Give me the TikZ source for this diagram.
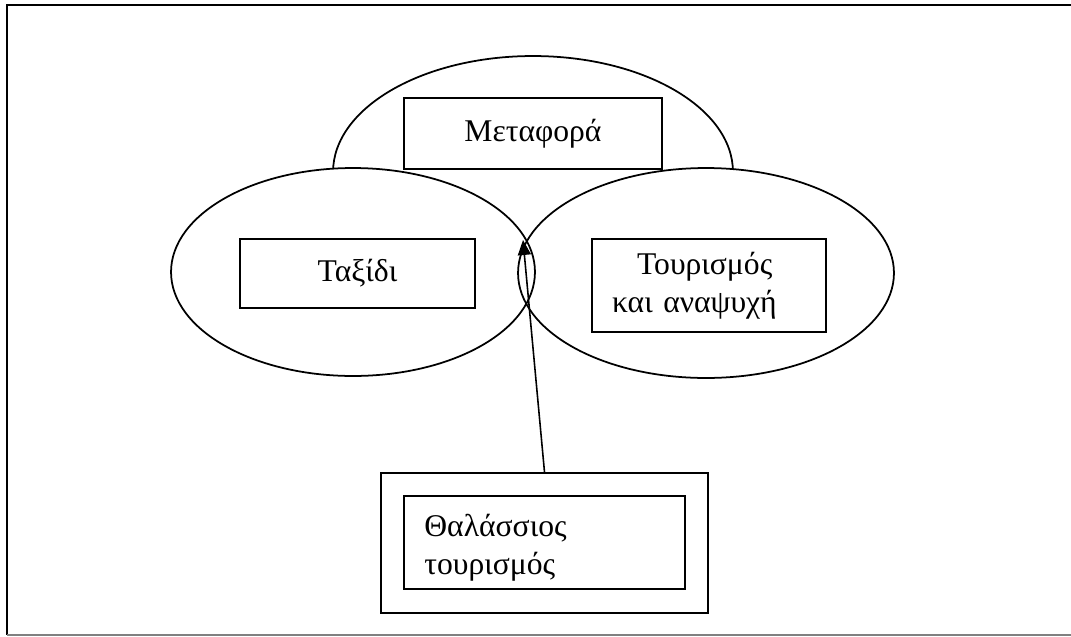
\documentclass[tikz,border=0pt]{standalone}
\usepackage{fontspec}
\setmainfont{Liberation Serif}
\usetikzlibrary{shapes,shapes.geometric,arrows.meta,positioning}

\tikzset{
	oval/.style={ellipse, line width=1pt, inner sep=0pt},
	label box/.style={draw, line width=1pt, fill=white, font=\fontsize{18}{21.5}\selectfont, align=center}
}

\begin{document}
\begin{tikzpicture}[x=0.02cm, y=-0.02cm]
	\useasboundingbox (0,0) rectangle (1071,636);
	\draw[line width=1pt] (1071,5) -- (7,5) -- (7,635);
	\draw[gray, line width=0.8pt] (7,635) -- (1071,635);

	\node[oval, draw, minimum width=8cm, minimum height=4.64cm] (metaforaoval) at (533,172) {};
	\node[oval, fill=white, minimum width=7.28cm, minimum height=4.16cm] (taxidioval) at (353,272) {};
	\node[oval, fill=white, minimum width=7.52cm, minimum height=4.2cm] (tourismoval) at (706,273) {};
	\node[oval, draw, minimum width=7.28cm, minimum height=4.16cm] (taxidiline) at (taxidioval) {};
	\node[oval, draw, minimum width=7.52cm, minimum height=4.2cm] (tourismline) at (tourismoval) {};

	\node[label box, minimum width=5.16cm, minimum height=1.42cm] (metafora) at (533,133.5) {Μεταφορά};
	\node[label box, minimum width=4.7cm, minimum height=1.38cm] (taxidi) at (357.5,273.5) {Ταξίδι};
	\node[label box, align=left, text width=3.88cm, inner xsep=0.4cm, minimum height=1.86cm] (tourism) at (709,285.5) {\hspace*{0.5cm}Τουρισμός\\και αναψυχή};

	\node[draw, line width=1pt, minimum width=6.54cm, minimum height=2.8cm] (thalouter) at (544.5,543) {};
	\node[draw, line width=1pt, minimum width=5.62cm, minimum height=1.86cm] (thalassios) at (544.5,542.5) {};
	\node[font=\fontsize{18}{21.5}\selectfont, align=left, anchor=north west, inner sep=0pt] (thaltext) at (424,514) {Θαλάσσιος\\τουρισμός};

	\coordinate (overlap) at (523,240);
	\draw[line width=0.9pt, -{Triangle[length=0.3cm, width=0.26cm]}] (thalouter.north) -- (overlap);
\end{tikzpicture}
\end{document}
